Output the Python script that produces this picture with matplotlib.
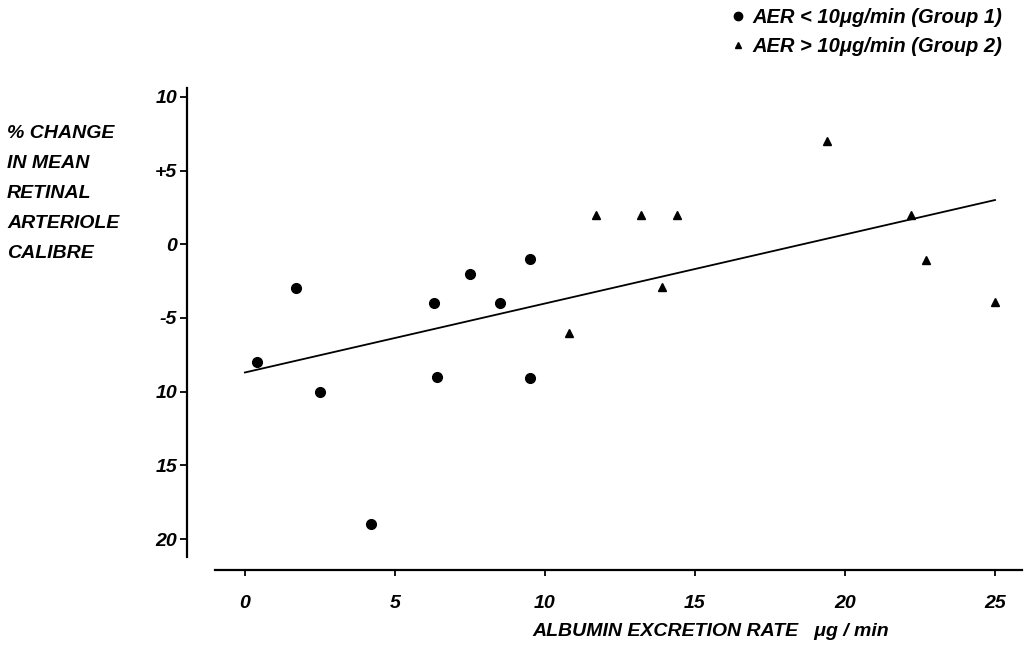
"""Retinal arteriole calibre change vs albumin excretion rate"""

import matplotlib.pyplot as plt
from matplotlib.lines import Line2D

# Group 1: AER < 10 ug/min
g1_x = [0.4, 1.7, 2.5, 4.2, 6.3, 6.4, 7.5, 8.5, 9.5, 9.5]
g1_y = [-8, -3, -10, -19, -4, -9, -2, -4, -1, -9.1]

# Group 2: AER > 10 ug/min
g2_x = [10.8, 11.7, 13.2, 13.9, 14.4, 19.4, 22.2, 22.7, 25.0]
g2_y = [-6, 2, 2, -2.9, 2, 7, 2, -1.1, -3.9]

# regression line end points
fit_x = [0.0, 25.0]
fit_y = [-8.7, 3.0]

x_ticks = [0, 5, 10, 15, 20, 25]
y_ticks = [10, 5, 0, -5, -10, -15, -20]
y_ticklabels = ['10', '+5', '0', '-5', '10', '15', '20']

plt.rcParams['font.family'] = ['Liberation Sans', 'DejaVu Sans']
font = dict(fontsize=14, fontstyle='italic', fontweight='bold')

fig = plt.figure(figsize=(10.27, 6.57), dpi=100)
ax = fig.add_axes([187 / 1027, 1 - 570 / 657, (1022 - 187) / 1027, (570 - 88) / 657])

ax.plot(g1_x, g1_y, 'o', color='black', markersize=7, clip_on=False)
ax.plot(g2_x, g2_y, '^', color='black', markersize=6, clip_on=False)
ax.plot(fit_x, fit_y, '-', color='black', linewidth=1.3)

ax.set_xlim(-1.93, 25.9)
ax.set_ylim(-22.1, 10.6)
for side in ['top', 'right']:
	ax.spines[side].set_visible(False)
ax.spines['left'].set_bounds(-21.2, 10.6)
ax.spines['bottom'].set_bounds(-1.0, 25.9)
ax.spines['left'].set_linewidth(1.6)
ax.spines['bottom'].set_linewidth(1.6)

ax.set_xticks(x_ticks)
ax.set_xticklabels([str(t) for t in x_ticks], **font)
ax.set_yticks(y_ticks)
ax.set_yticklabels(y_ticklabels, **font)
ax.tick_params(axis='y', direction='out', length=5, width=1.3, pad=2)
ax.tick_params(axis='x', direction='out', length=4, width=1.3, pad=14)

fig.text(7 / 1027, 1 - 125 / 657,
	'% CHANGE\nIN MEAN\nRETINAL\nARTERIOLE\nCALIBRE',
	ha='left', va='top', linespacing=2.0, **font)
fig.text(711 / 1027, 1 - 632 / 657, 'ALBUMIN EXCRETION RATE   \u03bcg / min',
	ha='center', va='center', **font)

handles = [
	Line2D([], [], marker='o', color='black', linestyle='none', markersize=6),
	Line2D([], [], marker='^', color='black', linestyle='none', markersize=5)]
labels = ['AER < 10\u03bcg/min (Group 1)', 'AER > 10\u03bcg/min (Group 2)']
fig.legend(handles, labels, loc='upper right', bbox_to_anchor=(1020 / 1027, 1 + 10 / 657),
	frameon=False, handlelength=0.6, handletextpad=0.4, labelspacing=0.48,
	prop=dict(size=14.5, style='italic', weight='bold'))

plt.savefig('out.png', dpi=100)
